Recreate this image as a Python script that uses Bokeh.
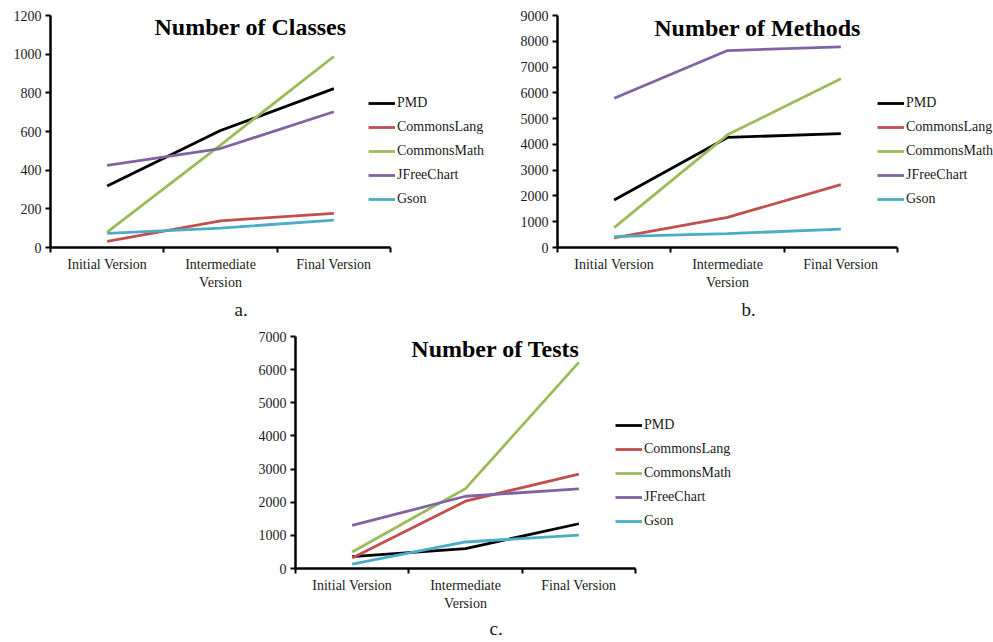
from bokeh.plotting import figure
from bokeh.models import FixedTicker, Label, Legend, LegendItem, Spacer, Title
from bokeh.layouts import column, row
from bokeh.embed import file_html
from bokeh.resources import INLINE

# ---------------- data ----------------
versions = ["Initial Version", "Intermediate\nVersion", "Final Version"]
projects = ["PMD", "CommonsLang", "CommonsMath", "JFreeChart", "Gson"]
colors = ["#000000", "#C0504D", "#9BBB59", "#8064A2", "#4BACC6"]

classes_pmd = [318, 605, 822]
classes_lang = [32, 138, 177]
classes_math = [80, 530, 988]
classes_jfree = [425, 512, 702]
classes_gson = [73, 100, 142]

methods_pmd = [1840, 4270, 4420]
methods_lang = [370, 1170, 2440]
methods_math = [770, 4370, 6550]
methods_jfree = [5790, 7640, 7780]
methods_gson = [420, 540, 710]

tests_pmd = [360, 600, 1350]
tests_lang = [320, 2030, 2850]
tests_math = [500, 2410, 6220]
tests_jfree = [1300, 2180, 2400]
tests_gson = [130, 800, 1010]

classes_ticks = [0, 200, 400, 600, 800, 1000, 1200]
methods_ticks = [0, 1000, 2000, 3000, 4000, 5000, 6000, 7000, 8000, 9000]
tests_ticks = [0, 1000, 2000, 3000, 4000, 5000, 6000, 7000]

SERIF = "Liberation Serif"
TXT = "#1a1a1a"
CAT_W = 340  # pixel width of the three-category axis


def make_chart(title, caption, series, yticks, width, height, bl, bt, bb,
               title_pos, legend_loc, cap_offset, cap_standoff):
    n = len(versions)
    fw = width - bl
    p = figure(width=width, height=height, output_backend="svg",
               toolbar_location=None, x_range=(0, n * fw / CAT_W),
               y_range=(yticks[0], yticks[-1]),
               min_border_left=bl, min_border_right=0,
               min_border_top=bt, min_border_bottom=bb)
    p.outline_line_color = None
    p.grid.visible = False
    p.background_fill_color = "white"

    xs = [i + 0.5 for i in range(n)]
    items = []
    for name, vals, col in zip(projects, series, colors):
        r = p.line(xs, vals, line_color=col, line_width=2.8)
        items.append(LegendItem(label=name, renderers=[r]))

    # x axis
    xa = p.xaxis[0]
    xa.bounds = (0, n)
    xa.ticker = FixedTicker(ticks=xs, minor_ticks=list(range(n + 1)))
    xa.major_label_overrides = {x: v for x, v in zip(xs, versions)}
    xa.major_tick_line_color = None
    xa.major_tick_out = 0
    xa.major_tick_in = 0
    xa.minor_tick_line_color = "black"
    xa.minor_tick_line_width = 2
    xa.minor_tick_out = 5
    xa.minor_tick_in = 0
    xa.axis_line_width = 2.5
    xa.axis_line_color = "black"
    xa.major_label_standoff = 4
    xa.major_label_text_font = SERIF
    xa.major_label_text_font_size = "14px"
    xa.major_label_text_color = TXT

    # caption below the axis
    p.add_layout(Title(text=caption, align="left", offset=cap_offset,
                       standoff=cap_standoff, text_font=SERIF,
                       text_font_style="normal", text_font_size="19px",
                       text_color=TXT), "below")

    # y axis
    ya = p.yaxis[0]
    ya.ticker = FixedTicker(ticks=yticks)
    ya.axis_line_width = 2.5
    ya.axis_line_color = "black"
    ya.major_tick_line_color = "black"
    ya.major_tick_line_width = 2
    ya.major_tick_out = 5
    ya.major_tick_in = 0
    ya.minor_tick_line_color = None
    ya.major_label_standoff = 4
    ya.major_label_text_font = SERIF
    ya.major_label_text_font_size = "14px"
    ya.major_label_text_color = TXT

    # title inside plot area
    tx, ty = title_pos
    p.add_layout(Label(x=tx, y=ty, text=title, text_font=SERIF,
                       text_font_style="bold", text_font_size="24px",
                       text_align="center", text_baseline="middle",
                       text_color="black"))

    legend = Legend(items=items, location=legend_loc, orientation="vertical",
                    glyph_width=27, glyph_height=20, label_height=20,
                    label_standoff=2, spacing=4, padding=0, margin=0,
                    border_line_color=None, background_fill_alpha=0,
                    label_text_font=SERIF, label_text_font_size="14px",
                    label_text_color=TXT)
    p.add_layout(legend)
    return p


pa = make_chart("Number of Classes", "a.",
                [classes_pmd, classes_lang, classes_math, classes_jfree, classes_gson],
                classes_ticks, 500, 325, 50, 15, 78, (1.765, 1138), (318, 38), 184, 8)
pb = make_chart("Number of Methods", "b.",
                [methods_pmd, methods_lang, methods_math, methods_jfree, methods_gson],
                methods_ticks, 493, 325, 57, 15, 78, (1.765, 8534), (320, 38), 184, 8)
pc = make_chart("Number of Tests", "c.",
                [tests_pmd, tests_lang, tests_math, tests_jfree, tests_gson],
                tests_ticks, 520, 316, 55, 11, 73, (1.765, 6608), (320, 37), 194, 4)

layout = column(row(pa, pb), row(Spacer(width=240, height=316), pc))

open("out.html", "w").write(file_html(layout, INLINE))
